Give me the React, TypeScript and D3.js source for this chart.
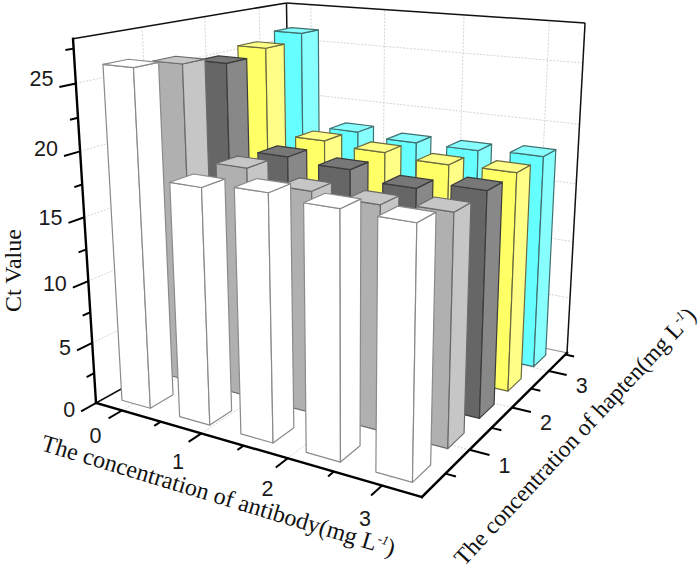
import React from 'react';
import * as d3 from 'd3';

const WIDTH = 700;
const HEIGHT = 569;

// Ct values, one list per hapten row, front to back
const row0 = [26.3, 18.3, 18.7, 18.4, 18.3];
const row1 = [25.8, 18.5, 17.5, 17.3, 17.6];
const row2 = [25.1, 18.2, 17.9, 17.2, 17.8];
const row3 = [25.6, 18.4, 18.1, 17.8, 17.9];
const row4 = [26.2, 18.1, 17.8, 17.8, 18.0];
const rows = [row0, row1, row2, row3, row4];

const antibodyLevels = ['a0', 'a1', 'a2', 'a3', 'a4'];
const haptenLevels = ['h0', 'h1', 'h2', 'h3', 'h4'];

const zMajor = [0, 5, 10, 15, 20, 25];
const zMinor = [2.5, 7.5, 12.5, 17.5, 22.5, 27.5];
const xMajor = [0, 1, 2, 3];
const xMinor = [0.5, 1.5, 2.5];
const yMajor = [1, 2, 3];
const yMinor = [0.5, 1.5, 2.5, 3.5];

// front face, side face, top face, edge
const rowColors = [
  ['#ffffff', '#ffffff', '#ffffff', '#8a8a8a'],
  ['#b0b0b0', '#c6c6c6', '#c6c6c6', '#6a6a6a'],
  ['#666666', '#888888', '#777777', '#3c3c3c'],
  ['#ffff66', '#ffff88', '#ffff88', '#6a6a40'],
  ['#66ffff', '#88ffff', '#88ffff', '#407070'],
];

// perspective of the unit box, from the vanishing points of its edges
const origin = [96, 403, 1];
const vx = [-1770, -135, 1].map((d) => d * -0.1487);
const vy = [1048, -125, 1].map((d) => d * 0.2568);
const vz = [347, 4380, 1].map((d) => d * -0.0839);

const project = (x: number, y: number, z: number): [number, number] => {
  const h = [0, 1, 2].map((i) => origin[i] + x * vx[i] + y * vy[i] + z * vz[i]);
  return [h[0] / h[2], h[1] / h[2]];
};

const xScale = d3.scaleLinear().domain([0, 3]).range([0.0924, 0.894]);
const yScale = d3.scaleLinear().domain([1, 3]).range([0.272, 0.842]);
const zScale = d3.scaleLinear().domain([0, 28.2]).range([0, 1]);
const colBand = d3.scaleBand().domain(antibodyLevels).range([0, 1]).paddingInner(0.5).paddingOuter(0.25);
const rowBand = d3.scaleBand().domain(haptenLevels).range([0, 1]).paddingInner(0.5).paddingOuter(0.25);

// labels drift away from their ticks along the axes
const xLabelDx = d3.scaleLinear().domain([0, 3]).range([-13, -6]);
const xLabelDy = d3.scaleLinear().domain([0, 3]).range([18, 23]);
const zLabelDy = d3.scaleLinear().domain([0, 25]).range([-1, -8]);

const line = d3.line();
const poly = (pts: [number, number, number][]) => line(pts.map((p) => project(p[0], p[1], p[2]))) + 'Z';
const seg = (a: [number, number, number], b: [number, number, number]) => line([project(...a), project(...b)]) as string;

const GRID = { stroke: '#d4d4d4', strokeWidth: 1, strokeDasharray: '2 1.5', fill: 'none' };
const LABEL = { fontFamily: '"Liberation Sans", Arial, sans-serif', fontSize: 21.5, fill: '#1a1a1a', textAnchor: 'middle' as const, dominantBaseline: 'central' as const };
const TITLE = { fontFamily: '"Liberation Serif", "Times New Roman", serif', fontSize: 24, fill: '#111' };

const Sup = ({ rest }: { rest: string }) => (
  <>
    <tspan>{rest}</tspan>
    <tspan dy={-9} fontSize={13} fontStyle="italic">-1</tspan>
    <tspan dy={9}>)</tspan>
  </>
);

export default function App() {
  const bars: React.ReactNode[] = [];
  // back rows first, then left to right, so nearer bars cover farther ones
  for (let r = rows.length - 1; r >= 0; r--) {
    rows[r].forEach((value, c) => {
      const x0 = colBand(antibodyLevels[c]) as number;
      const x1 = x0 + colBand.bandwidth();
      const y0 = rowBand(haptenLevels[r]) as number;
      const y1 = y0 + rowBand.bandwidth();
      const z = zScale(value);
      const [front, side, top, edge] = rowColors[r];
      bars.push(
        <g key={`${r}-${c}`} stroke={edge} strokeWidth={1.2} strokeLinejoin="round">
          <path d={poly([[x0, y0, 0], [x1, y0, 0], [x1, y0, z], [x0, y0, z]])} fill={front} />
          <path d={poly([[x1, y0, 0], [x1, y1, 0], [x1, y1, z], [x1, y0, z]])} fill={side} />
          <path d={poly([[x0, y0, z], [x1, y0, z], [x1, y1, z], [x0, y1, z]])} fill={top} />
        </g>
      );
    });
  }

  return (
    <svg width={WIDTH} height={HEIGHT} style={{ position: 'absolute', left: 0, top: 0, background: '#fff' }}>
      {/* wall and floor grid */}
      {zMajor.slice(1).map((v) => (
        <g key={`gz${v}`} {...GRID}>
          <path d={line([project(0, 0, zScale(v)), project(0, 1, zScale(v)), project(1, 1, zScale(v))]) as string} />
        </g>
      ))}
      {yMajor.map((v) => (
        <g key={`gy${v}`} {...GRID}>
          <path d={line([project(1, yScale(v), 0), project(0, yScale(v), 0), project(0, yScale(v), 1)]) as string} />
        </g>
      ))}
      {xMajor.map((v) => (
        <g key={`gx${v}`} {...GRID}>
          <path d={line([project(xScale(v), 0, 0), project(xScale(v), 1, 0), project(xScale(v), 1, 1)]) as string} />
        </g>
      ))}

      {/* box frame behind the bars */}
      <g fill="none" stroke="#111" strokeWidth={1.5}>
        <path d={seg([0, 0, 1], [0, 1, 1])} />
        <path d={seg([0, 1, 1], [1, 1, 1])} />
        <path d={seg([0, 1, 1], [0, 1, 0])} />
        <path d={seg([1, 1, 1], [1, 1, 0])} />
        <path d={seg([0, 0, 0], [0, 1, 0])} />
        <path d={seg([0, 1, 0], [1, 1, 0])} stroke="#888" strokeWidth={1} />
      </g>

      {bars}

      {/* axes */}
      <g fill="none" stroke="#000" strokeWidth={2.4} strokeLinecap="square">
        <path d={seg([0, 0, 0], [0, 0, 1])} />
        <path d={seg([0, 0, 0], [1, 0, 0])} />
        <path d={seg([1, 0, 0], [1, 1, 0])} />
      </g>

      {/* ticks */}
      <g fill="none" stroke="#000" strokeWidth={2}>
        {zMajor.map((v) => <path key={v} d={seg([0, 0, zScale(v)], [0, -0.06, zScale(v)])} />)}
        {zMinor.map((v) => <path key={v} d={seg([0, 0, zScale(v)], [0, -0.03, zScale(v)])} />)}
        {xMajor.map((v) => <path key={v} d={seg([xScale(v), 0, 0], [xScale(v), -0.055, 0])} />)}
        {xMinor.map((v) => <path key={v} d={seg([xScale(v), 0, 0], [xScale(v), -0.028, 0])} />)}
        {yMajor.map((v) => <path key={v} d={seg([1, yScale(v), 0], [1.055, yScale(v), 0])} />)}
        {yMinor.map((v) => <path key={v} d={seg([1, yScale(v), 0], [1.028, yScale(v), 0])} />)}
      </g>

      {/* tick labels */}
      {zMajor.map((v) => {
        const [px, py] = project(0, -0.06, zScale(v));
        return <text key={v} {...LABEL} textAnchor="end" x={px - 6} y={py + zLabelDy(v)}>{v}</text>;
      })}
      {xMajor.map((v) => {
        const [px, py] = project(xScale(v), -0.055, 0);
        return <text key={v} {...LABEL} x={px + xLabelDx(v)} y={py + xLabelDy(v)}>{v}</text>;
      })}
      {yMajor.map((v) => {
        const [px, py] = project(1.055, yScale(v), 0);
        return <text key={v} {...LABEL} x={px + 15} y={py + 11}>{v}</text>;
      })}

      {/* axis titles */}
      <text {...TITLE} transform="translate(21,312) rotate(-90)">Ct Value</text>
      <text {...TITLE} transform="translate(40,450) rotate(16.8)">
        <Sup rest="The concentration of antibody(mg L" />
      </text>
      <text {...TITLE} fontSize={23.6} transform="translate(464,567) rotate(-47)">
        <Sup rest="The concentration of hapten(mg L" />
      </text>
    </svg>
  );
}
